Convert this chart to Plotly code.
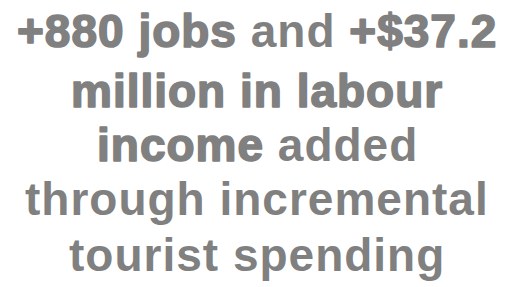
import plotly.graph_objects as go

# Text content: each line is a list of (segment, emphasised?)
line_segments = [
    [("+880 jobs", True), (" and ", False), ("+$37.2", True)],
    [("million in labour", True)],
    [("income", True), (" added", False)],
    [("through incremental", False)],
    [("tourist spending", False)],
]
line_centers_px = [23, 83, 137, 191, 247]  # vertical centre of each line (px from top)

W, H = 512, 287
TEXT_COLOR = "#808080"
FONT_SIZE = 46

fig = go.Figure()

annotations = []
for segs, cy in zip(line_segments, line_centers_px):
    parts = []
    for txt, emph in segs:
        if emph:
            parts.append(
                f'<span style="stroke:{TEXT_COLOR};stroke-width:1.6px;stroke-linejoin:round;letter-spacing:1px">{txt}</span>'
            )
        else:
            parts.append(f'<span style="letter-spacing:1px">{txt}</span>')
    annotations.append(dict(
        text="<b>" + "".join(parts) + "</b>",
        x=0.5, xref="paper", xanchor="center", xshift=-7,
        y=1 - cy / H, yref="paper", yanchor="middle",
        showarrow=False,
        font=dict(family="Liberation Sans, Arial, sans-serif", size=FONT_SIZE, color=TEXT_COLOR),
    ))

fig.update_layout(
    width=W, height=H,
    margin=dict(l=0, r=0, t=0, b=0),
    paper_bgcolor="white", plot_bgcolor="white",
    xaxis=dict(visible=False, range=[0, 1]),
    yaxis=dict(visible=False, range=[0, 1]),
    annotations=annotations,
    showlegend=False,
)

fig.write_html("out.html", config={"displayModeBar": False})
